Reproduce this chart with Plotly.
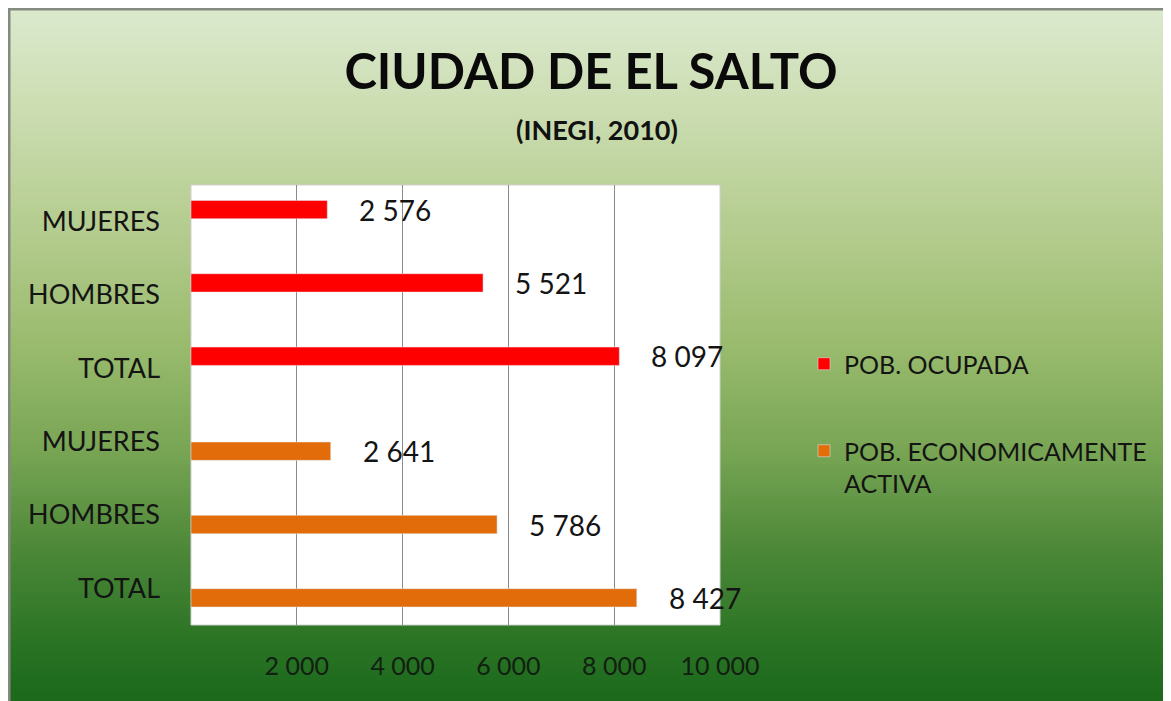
import plotly.graph_objects as go

# ---- data --------------------------------------------------------------------
CATEGORIES = ["MUJERES", "HOMBRES", "TOTAL", "MUJERES", "HOMBRES", "TOTAL"]
OCUPADA_POS = [0, 1, 2]
OCUPADA = [2576, 5521, 8097]
ACTIVA_POS = [3, 4, 5]
ACTIVA = [2641, 5786, 8427]
X_TICKS = [2000, 4000, 6000, 8000, 10000]

# ---- geometry ----------------------------------------------------------------
# the page body adds an 8px margin; that margin doubles as the white frame
PAGE_W, PAGE_H, BODY = 1171, 701, 8
W, H = PAGE_W - BODY, PAGE_H - BODY
PLOT_L, PLOT_R, PLOT_T, PLOT_B = 191, 720, 185, 625   # page pixels
ML, MR = PLOT_L - BODY, PAGE_W - PLOT_R
MT, MB = PLOT_T - BODY, PAGE_H - PLOT_B
PW, PH = W - ML - MR, H - MT - MB
FONT = "Lato"
INK = "#141414"

RED = "#ff0000"
ORANGE = "#e36c0a"


def px_x(px):
    """page pixel x -> paper x"""
    return (px - BODY - ML) / PW


def px_y(py):
    """page pixel y -> paper y"""
    return (H - MB - (py - BODY)) / PH


def fmt(v):
    return f"{v:,}".replace(",", " ")


# vertical background gradient: (page pixel y, rgb)
GRAD = [(8, (219, 233, 206)), (100, (205, 222, 180)), (250, (176, 201, 137)),
        (350, (152, 186, 108)), (450, (120, 165, 84)), (550, (76, 136, 56)),
        (650, (40, 114, 35)), (701, (28, 105, 28))]


def grad_color(py):
    for (y0, c0), (y1, c1) in zip(GRAD, GRAD[1:]):
        if y0 <= py <= y1:
            t = (py - y0) / (y1 - y0)
            return "rgb(%d,%d,%d)" % tuple(round(a + (b - a) * t) for a, b in zip(c0, c1))
    return "rgb(%d,%d,%d)" % GRAD[-1][1]


shapes = []
step = 4
for py in range(BODY, PAGE_H, step):
    shapes.append(dict(type="rect", xref="paper", yref="paper",
                       x0=px_x(BODY), x1=px_x(PAGE_W),
                       y0=px_y(min(py + step + 1, PAGE_H)), y1=px_y(py),
                       fillcolor=grad_color(py + step / 2), line_width=0, layer="below"))
shapes.append(dict(type="line", xref="paper", yref="paper", x0=px_x(BODY), x1=px_x(PAGE_W),
                   y0=px_y(BODY + 1), y1=px_y(BODY + 1),
                   line=dict(color="#858a80", width=3), layer="below"))
shapes.append(dict(type="line", xref="paper", yref="paper", x0=px_x(BODY + 1), x1=px_x(BODY + 1),
                   y0=px_y(PAGE_H), y1=px_y(BODY),
                   line=dict(color="#858a80", width=3), layer="below"))
# white plot area
shapes.append(dict(type="rect", xref="x domain", yref="y domain", x0=0, x1=1, y0=0, y1=1,
                   fillcolor="white", line=dict(color="#d0d0d0", width=1), layer="below"))

fig = go.Figure()
fig.add_trace(go.Bar(
    x=OCUPADA, y=OCUPADA_POS, orientation="h", name="POB. OCUPADA",
    marker=dict(color=RED), width=0.25, offset=-0.29, legend="legend", showlegend=True,
))
fig.add_trace(go.Bar(
    x=ACTIVA, y=ACTIVA_POS, orientation="h", name="POB. ECONOMICAMENTE<br>ACTIVA",
    marker=dict(color=ORANGE), width=0.25, offset=0.005, legend="legend2", showlegend=True,
))

label_font = dict(family=FONT, size=28, color=INK)
annotations = []
for pos, val in zip(OCUPADA_POS, OCUPADA):
    annotations.append(dict(x=val, y=pos - 0.165, xref="x", yref="y", text=fmt(val),
                            showarrow=False, xanchor="left", yanchor="middle", xshift=30,
                            font=label_font))
for pos, val in zip(ACTIVA_POS, ACTIVA):
    annotations.append(dict(x=val, y=pos + 0.13, xref="x", yref="y", text=fmt(val),
                            showarrow=False, xanchor="left", yanchor="middle", xshift=30,
                            font=label_font))
annotations.append(dict(x=px_x(597), y=px_y(129), xref="paper", yref="paper",
                        xanchor="center", yanchor="middle",
                        text="<b>(INEGI, 2010)</b>", showarrow=False,
                        font=dict(family=FONT, size=27, color="#111")))

legend_font = dict(family=FONT, size=25, color=INK)
fig.update_layout(
    width=W, height=H,
    margin=dict(l=ML, r=MR, t=MT, b=MB, autoexpand=False),
    paper_bgcolor="white", plot_bgcolor="white",
    barmode="overlay",
    showlegend=True,
    title=dict(text="<b>CIUDAD DE EL SALTO</b>", x=(591 - BODY) / W, xanchor="center",
               y=1 - (72 - BODY) / H, yanchor="middle",
               font=dict(family=FONT, size=49, color="#0a0a0a")),
    shapes=shapes, annotations=annotations,
    legend=dict(x=px_x(804), y=px_y(341), xanchor="left", yanchor="top",
                bgcolor="rgba(0,0,0,0)", font=legend_font),
    legend2=dict(x=px_x(804), y=px_y(428), xanchor="left", yanchor="top", valign="top",
                 bgcolor="rgba(0,0,0,0)", font=legend_font),
    font=dict(family=FONT),
)
fig.update_xaxes(range=[0, 10000], tickvals=X_TICKS, ticktext=[fmt(v) for v in X_TICKS],
                 showgrid=True, gridcolor="#8a8a8a", gridwidth=1, zeroline=False,
                 ticklabelstandoff=24, tickfont=dict(family=FONT, size=25, color="#122012"))
fig.update_yaxes(range=[5.5, -0.5], tickvals=list(range(len(CATEGORIES))), ticktext=CATEGORIES,
                 showgrid=False, zeroline=False, ticklabelstandoff=30,
                 tickfont=dict(family=FONT, size=27, color=INK))

fig.write_html("out.html")
